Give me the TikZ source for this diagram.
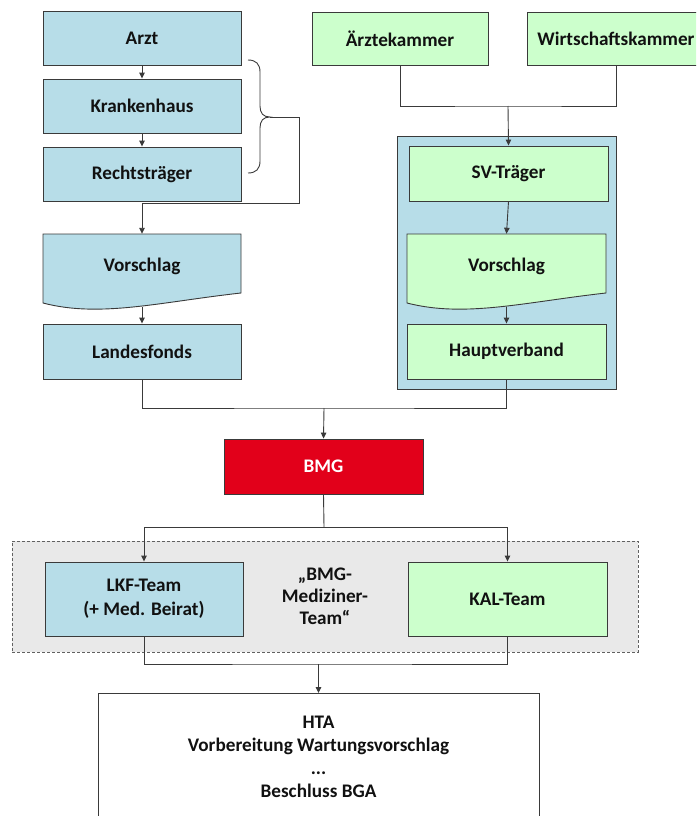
\documentclass[tikz,border=0pt]{standalone}
\usepackage{fontspec}
\setmainfont{Carlito}
\usetikzlibrary{arrows.meta}
\definecolor{lblue}{HTML}{B7DDE8}
\definecolor{lgreen}{HTML}{CCFFCC}
\definecolor{bred}{HTML}{E2001A}
\definecolor{bcol}{HTML}{3A3A3A}
\definecolor{lcol}{HTML}{3A3A3A}
\definecolor{gfill}{HTML}{E9E9E9}
\definecolor{txt}{HTML}{111111}
\tikzset{
  box/.style={draw=bcol, line width=0.9pt, minimum width=198pt, minimum height=54pt,
    inner sep=0pt, align=center, font=\bfseries\fontsize{19.2}{24}\selectfont, text=txt},
  bluebox/.style={box, fill=lblue},
  greenbox/.style={box, fill=lgreen},
  lbl/.style={inner sep=0pt, align=center, font=\bfseries\fontsize{19.2}{24}\selectfont, text=txt},
  conn/.style={draw=lcol, line width=0.9pt},
  arr/.style={conn, -{Triangle[length=6pt,width=5.5pt]}},
}
\begin{document}
\begin{tikzpicture}[x=1pt,y=-1pt]
\useasboundingbox (0,0) rectangle (696,816);
\clip (0,0) rectangle (696,816);

% ---- left column
\node[bluebox] (arzt) at (142,38.5) {Arzt};
\node[bluebox] (kh) at (142,106) {Krankenhaus};
\node[bluebox] (rt) at (142,174) {Rechtsträger};
\fill[lblue] (43,234) -- (241,234) -- (241,293) .. controls (160,302) and (100,318) .. (43,303) -- cycle;
\draw[bcol, line width=0.9pt] (43,234) -- (241,234) -- (241,293) .. controls (160,302) and (100,318) .. (43,303) -- cycle;
\node[lbl, minimum width=198pt, minimum height=64pt] (vl) at (142,266) {Vorschlag};
\coordinate (vlb) at (142,306.5);
\node[bluebox, minimum height=55pt] (lf) at (142,351.5) {Landesfonds};

% brace
\draw[conn] (248,60) .. controls (256,60) and (260,64) .. (260,72) -- (260,106)
  .. controls (260,113) and (263,117) .. (270,117)
  .. controls (263,117) and (260,121) .. (260,128) -- (260,161)
  .. controls (260,169) and (256,173) .. (248,173);
\coordinate (bt) at (270,117);

% ---- right column
\node[draw=bcol, line width=0.9pt, fill=lblue, minimum width=219pt, minimum height=253pt, inner sep=0pt] (sv) at (506.5,262.5) {};
\node[greenbox, minimum width=176pt, minimum height=53pt] (ak) at (400,38.5) {Ärztekammer};
\node[greenbox, minimum width=178pt, minimum height=53pt] (wk) at (616,38.5) {Wirtschaftskammer};
\node[greenbox, minimum width=199pt, minimum height=55pt] (svt) at (508.5,173.5) {SV-Träger};
\fill[lgreen] (407,234) -- (606,234) -- (606,293) .. controls (525,302) and (465,318) .. (407,303) -- cycle;
\draw[bcol, line width=0.9pt] (407,234) -- (606,234) -- (606,293) .. controls (525,302) and (465,318) .. (407,303) -- cycle;
\node[lbl, minimum width=199pt, minimum height=64pt] (vr) at (506.5,266) {Vorschlag};
\coordinate (vrb) at (506.5,306.5);
\node[greenbox, minimum width=199pt, minimum height=55pt] (hv) at (506.5,351.5) {Hauptverband};

% ---- BMG
\node[box, fill=bred, text=white, minimum width=199pt, minimum height=55pt] (bmg) at (323.5,466.5) {BMG};

% ---- team group
\node[draw=lcol!80, dashed, dash pattern=on 3pt off 2pt, line width=0.8pt, fill=gfill,
      minimum width=626pt, minimum height=111pt, inner sep=0pt] (grp) at (325,596.5) {};
\node[bluebox, minimum width=198pt, minimum height=74pt] (lkf) at (144,599) {LKF-Team\\(+ Med. Beirat)};
\node[greenbox, minimum width=199pt, minimum height=74pt] (kal) at (507.5,599) {KAL-Team};
\node[lbl, font=\bfseries\fontsize{19.2}{22}\selectfont] (bmt) at (325,596) {„BMG-\\Mediziner-\\Team“};

% ---- bottom box
\node[draw=bcol, line width=0.9pt, fill=white, minimum width=441pt, minimum height=160pt, inner sep=0pt, anchor=north] (hta) at (318.5,693) {};
\node[lbl, font=\bfseries\fontsize{19.2}{23}\selectfont] (htat) at (318.5,757) {HTA\\Vorbereitung Wartungsvorschlag\\...\\Beschluss BGA};

% ---- connectors
\draw[arr] (arzt.south) -- (kh.north);
\draw[arr] (kh.south) -- (rt.north);
\draw[arr] (bt) -- (299,117) -- (299,203) -| (vl.north);
\draw[arr] (vlb) -- (lf.north);

\coordinate (kmerge) at (508,106);
\draw[conn] (ak.south) |- (kmerge) -| (wk.south);
\draw[arr] (kmerge) -- (svt.north);
\draw[arr] (svt.south) -- (vr.north);
\draw[arr] (vrb) -- (hv.north);

\coordinate (bmgin) at (324,408);
\draw[conn] (lf.south) |- (bmgin) -| (hv.south);
\draw[arr] (bmgin) -- (bmg.north);

\coordinate (bmgout) at (324,527);
\draw[conn] (bmg.south) -- (bmgout);
\draw[arr] (bmgout) -| (lkf.north);
\draw[arr] (bmgout) -| (kal.north);

\coordinate (tmerge) at (318.5,664);
\draw[conn] (lkf.south) |- (tmerge) -| (kal.south);
\draw[arr] (tmerge) -- (hta.north);
\end{tikzpicture}
\end{document}
